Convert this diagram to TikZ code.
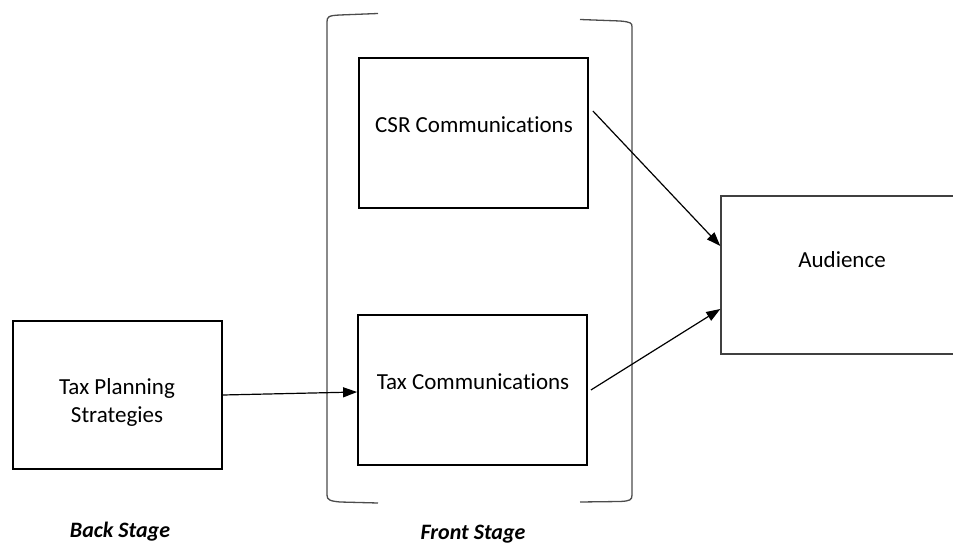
\documentclass[tikz,border=0pt]{standalone}
\usepackage{fontspec}
\setmainfont{Carlito}[Ligatures=NoCommon]
\usetikzlibrary{arrows.meta}
\begin{document}
\begin{tikzpicture}[x=1pt,y=1pt,
  box/.style={draw=black,line width=1.8pt,rectangle,inner sep=0pt},
  abox/.style={draw=black!75,line width=1.4pt,rectangle,inner sep=0pt},
  txt/.style={font=\fontsize{23}{28}\selectfont,align=center,inner sep=0pt},
  stagelbl/.style={font=\fontsize{22}{26}\selectfont\bfseries\itshape,inner sep=0pt},
  arr/.style={line width=1.2pt,-{Triangle[length=14pt,width=10pt]}},
  brk/.style={draw=black!70,line width=1.3pt}]
\useasboundingbox (0,0) rectangle (953,544);
% boxes (y = 544 - pixel row)
\node[box,minimum width=209pt,minimum height=148pt] (tps) at (117.5,149) {};
\node[box,minimum width=229pt,minimum height=150pt] (csr) at (473.5,411) {};
\node[box,minimum width=229pt,minimum height=150pt] (tc) at (472.5,154) {};
\begin{scope}
\clip (0,0) rectangle (953,544);
\node[abox,minimum width=236pt,minimum height=158pt] (aud) at (839,269) {};
\end{scope}
% texts
\node[txt] (tpst) at (117,142) {Tax Planning\\Strategies};
\node[txt] (csrt) at (474,419) {CSR Communications};
\node[txt] (tct) at (473,162) {Tax Communications};
\node[txt] (audt) at (842,284) {Audience};
\node[stagelbl] (bs) at (120,12) {Back Stage};
\node[stagelbl] (fs) at (473,10) {Front Stage};
% brackets
\coordinate (lbt) at (378,530.5);
\coordinate (lbb) at (378,41);
\coordinate (rbt) at (580,524.5);
\coordinate (rbb) at (580,42);
\draw[brk] (lbt) -- (340,529) .. controls (328,528.5) and (327,527) .. (327,522) -- (327,49) .. controls (327,44) and (330,43) .. (340,42) -- (lbb);
\draw[brk] (rbt) -- (620,523) .. controls (631,522) and (632,521) .. (632,517) -- (632,49) .. controls (632,44) and (630,43) .. (620,42.5) -- (rbb);
% arrows
\draw[arr] (tps.east) -- ([yshift=-2pt]tc.west);
\draw[arr] ([shift={(4pt,22pt)}]csr.east) -- ([yshift=29pt]aud.west);
\draw[arr] ([xshift=3pt]tc.east) -- ([yshift=-34pt]aud.west);
\end{tikzpicture}
\end{document}
